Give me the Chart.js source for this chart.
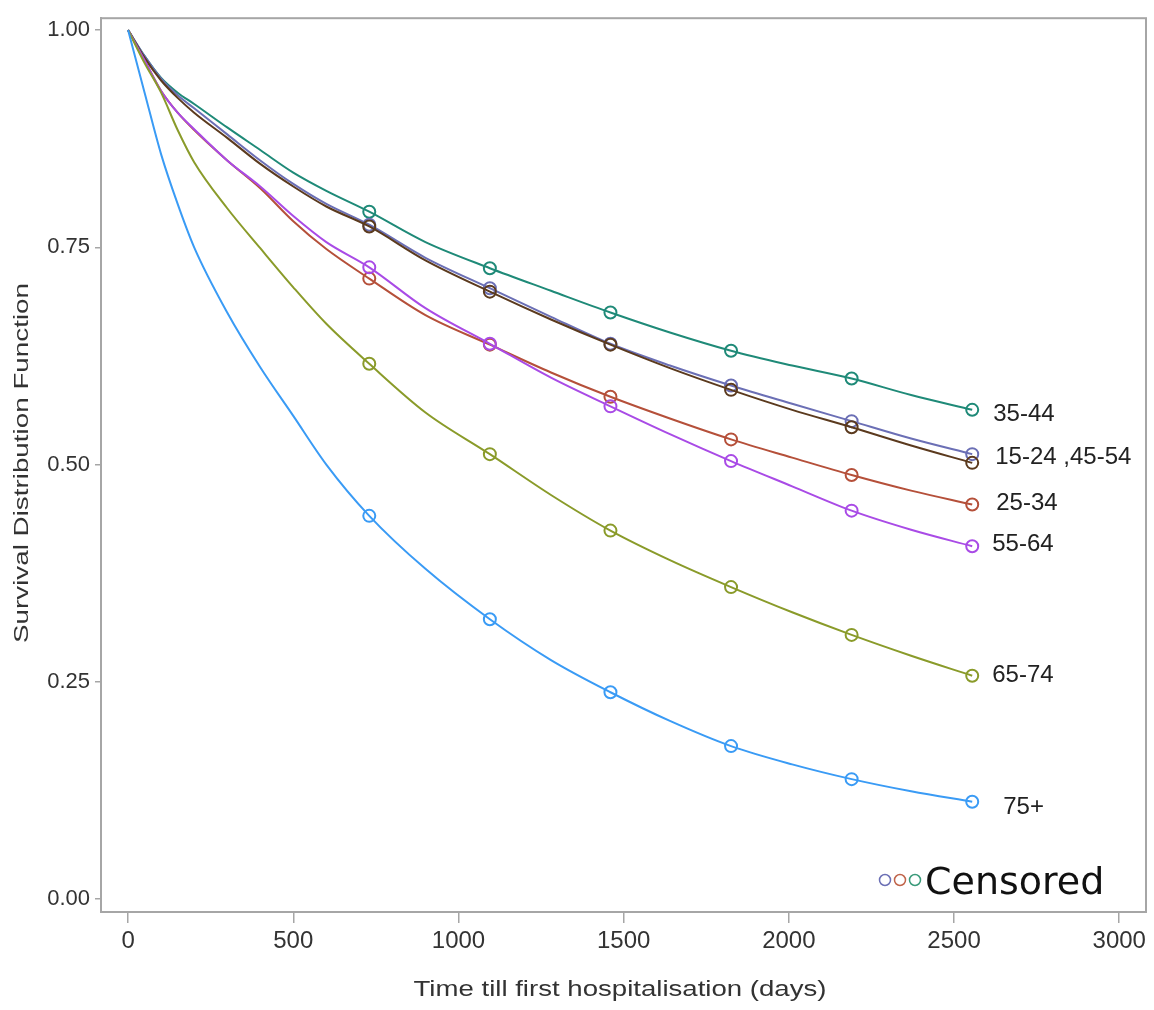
<!DOCTYPE html>
<html>
<head>
    <meta charset="utf-8">
    <title>Survival by age group</title>
    <script src="https://cdn.jsdelivr.net/npm/chart.js@4.4.0/dist/chart.umd.min.js"></script>
    <style type="text/css">
        body { margin: 0; background: #fff; }
        #wrap { width: 1154px; height: 1010px; }
    </style>
</head>
<body>
<div id="wrap">
    <canvas id="kmChart" width="1154" height="1010"></canvas>
</div>

<script>
    var days = [0, 50, 100, 150, 200, 300, 400, 500, 600, 730, 900, 1095, 1280, 1460, 1640, 1825, 2010, 2190, 2370, 2555];
    var censorDays = [730, 1095, 1460, 1825, 2190, 2555];

    var xTicks = [0, 500, 1000, 1500, 2000, 2500, 3000];
    var xTickLabels = ['0', '500', '1000', '1500', '2000', '2500', '3000'];
    var yTicks = [0, 0.25, 0.5, 0.75, 1];
    var yTickLabels = ['0.00', '0.25', '0.50', '0.75', '1.00'];

    var groups = ['75+', '65-74', '55-64', '25-34', '45-54', '15-24', '35-44'];
    var colours = ['#3a9bf5', '#8a9b2a', '#a94be6', '#b5503a', '#5b3a1e', '#6b6fb5', '#1f8a78'];

    var s75 = [1.0, 0.928, 0.857, 0.80, 0.75, 0.675, 0.612, 0.556, 0.50, 0.441, 0.38, 0.322, 0.275, 0.238, 0.205, 0.176, 0.155, 0.138, 0.124, 0.112];
    var s6574 = [1.0, 0.962, 0.928, 0.885, 0.848, 0.795, 0.749, 0.704, 0.662, 0.616, 0.56, 0.512, 0.465, 0.424, 0.39, 0.359, 0.33, 0.304, 0.28, 0.257];
    var s5564 = [1.0, 0.965, 0.93, 0.905, 0.886, 0.85, 0.82, 0.786, 0.756, 0.727, 0.68, 0.639, 0.60, 0.567, 0.535, 0.504, 0.475, 0.447, 0.425, 0.406];
    var s2534 = [1.0, 0.965, 0.93, 0.905, 0.885, 0.85, 0.818, 0.78, 0.748, 0.714, 0.672, 0.638, 0.606, 0.578, 0.553, 0.529, 0.508, 0.488, 0.47, 0.454];
    var s4554 = [1.0, 0.968, 0.942, 0.922, 0.905, 0.876, 0.846, 0.82, 0.797, 0.774, 0.735, 0.699, 0.667, 0.638, 0.611, 0.586, 0.563, 0.543, 0.522, 0.502];
    var s1524 = [1.0, 0.97, 0.944, 0.925, 0.91, 0.88, 0.85, 0.823, 0.80, 0.776, 0.738, 0.703, 0.67, 0.639, 0.614, 0.591, 0.57, 0.55, 0.53, 0.512];
    var s3544 = [1.0, 0.97, 0.945, 0.928, 0.915, 0.888, 0.862, 0.836, 0.815, 0.791, 0.756, 0.726, 0.70, 0.675, 0.652, 0.631, 0.614, 0.599, 0.58, 0.563];
    var series = [s75, s6574, s5564, s2534, s4554, s1524, s3544];

    // end-of-curve labels: text, index of the curve it sits next to
    var endLabels = [
        ['35-44', 6],
        ['15-24 ,45-54', 5],
        ['25-34', 3],
        ['55-64', 2],
        ['65-74', 1],
        ['75+', 0]
    ];
    var endLabelShift = [[21, 5], [23, 3], [24, -1], [20, -2], [20, 0], [31, 6]];

    var censorLegend = ['#6b6fb5', '#c0644a', '#3a9a7a'];

    function stretchedText(ctx, text, x, y, font, width, angle) {
        ctx.save();
        ctx.font = font;
        var w = ctx.measureText(text).width;
        ctx.translate(x, y);
        ctx.rotate(angle);
        ctx.scale(width / w, 1);
        ctx.textAlign = 'center';
        ctx.textBaseline = 'middle';
        ctx.fillStyle = '#333';
        ctx.fillText(text, 0, 0);
        ctx.restore();
    }

    var decorations = {
        id: 'decorations',
        beforeDatasetsDraw: function(chart) {
            var a = chart.chartArea, ctx = chart.ctx;
            ctx.save();
            ctx.strokeStyle = '#a6a6a6';
            ctx.lineWidth = 2;
            ctx.strokeRect(a.left, a.top, a.right - a.left, a.bottom - a.top);
            ctx.restore();
        },
        afterDraw: function(chart) {
            var ctx = chart.ctx, xs = chart.scales.x, ys = chart.scales.y;
            var last = days.length - 1;

            ctx.save();
            ctx.font = '24px "Liberation Sans", Arial, sans-serif';
            ctx.fillStyle = '#222';
            ctx.textBaseline = 'middle';
            endLabels.forEach(function(l, i) {
                var px = xs.getPixelForValue(days[last]);
                var py = ys.getPixelForValue(series[l[1]][last]);
                ctx.fillText(l[0], px + endLabelShift[i][0], py + endLabelShift[i][1]);
            });

            // censored legend
            ctx.lineWidth = 1.5;
            censorLegend.forEach(function(c, i) {
                ctx.beginPath();
                ctx.strokeStyle = c;
                ctx.arc(885 + i * 15, 880, 5.5, 0, Math.PI * 2);
                ctx.stroke();
            });
            ctx.font = '38px "DejaVu Sans", sans-serif';
            ctx.fillStyle = '#111';
            ctx.textBaseline = 'alphabetic';
            ctx.fillText('Censored', 925, 894);
            ctx.restore();

            stretchedText(ctx, 'Time till first hospitalisation (days)', 620, 990,
                '22px "Liberation Sans", Arial, sans-serif', 413, 0);
            stretchedText(ctx, 'Survival Distribution Function', 22, 463,
                '21px "Liberation Sans", Arial, sans-serif', 360, -Math.PI / 2);
        }
    };

    var datasets = series.map(function(vals, i) {
        return {
            label: groups[i],
            data: days.map(function(d, j) { return { x: d, y: vals[j] }; }),
            borderColor: colours[i],
            borderWidth: 2,
            cubicInterpolationMode: 'monotone',
            pointStyle: 'circle',
            pointRadius: function(ctx) {
                return censorDays.indexOf(days[ctx.dataIndex]) >= 0 ? 6 : 0;
            },
            pointBorderWidth: 2,
            pointBorderColor: colours[i],
            pointBackgroundColor: 'rgba(255,255,255,0)',
            fill: false
        };
    });

    var kmChart = new Chart(document.getElementById('kmChart').getContext('2d'), {
        type: 'line',
        data: { datasets: datasets },
        plugins: [decorations],
        options: {
            responsive: false,
            animation: false,
            devicePixelRatio: 1,
            layout: { padding: { top: 12, right: 7, left: 0, bottom: 0 } },
            plugins: {
                legend: { display: false },
                tooltip: { enabled: false }
            },
            scales: {
                x: {
                    type: 'linear',
                    min: -82,
                    max: 3081,
                    afterBuildTicks: function(axis) {
                        axis.ticks = xTicks.map(function(v) { return { value: v }; });
                    },
                    afterFit: function(axis) { axis.height = 98; },
                    ticks: {
                        font: { family: '"Liberation Sans", Arial, sans-serif', size: 24 },
                        color: '#333',
                        padding: 4,
                        maxRotation: 0,
                        callback: function(v) { return xTickLabels[xTicks.indexOf(v)]; }
                    },
                    grid: { drawOnChartArea: false, drawTicks: true, tickLength: 11, color: '#a6a6a6', lineWidth: 1.5 },
                    border: { display: true, color: '#a6a6a6', width: 2 }
                },
                y: {
                    type: 'linear',
                    min: -0.0149,
                    max: 1.0137,
                    afterBuildTicks: function(axis) {
                        axis.ticks = yTicks.map(function(v) { return { value: v }; });
                    },
                    afterFit: function(axis) { axis.width = 101; },
                    ticks: {
                        font: { family: '"Liberation Sans", Arial, sans-serif', size: 22 },
                        color: '#333',
                        padding: 5,
                        callback: function(v) { return yTickLabels[yTicks.indexOf(v)]; }
                    },
                    grid: { drawOnChartArea: false, drawTicks: true, tickLength: 6, color: '#a6a6a6', lineWidth: 1.5 },
                    border: { display: true, color: '#a6a6a6', width: 2 }
                }
            }
        }
    });
</script>
</body>
</html>
